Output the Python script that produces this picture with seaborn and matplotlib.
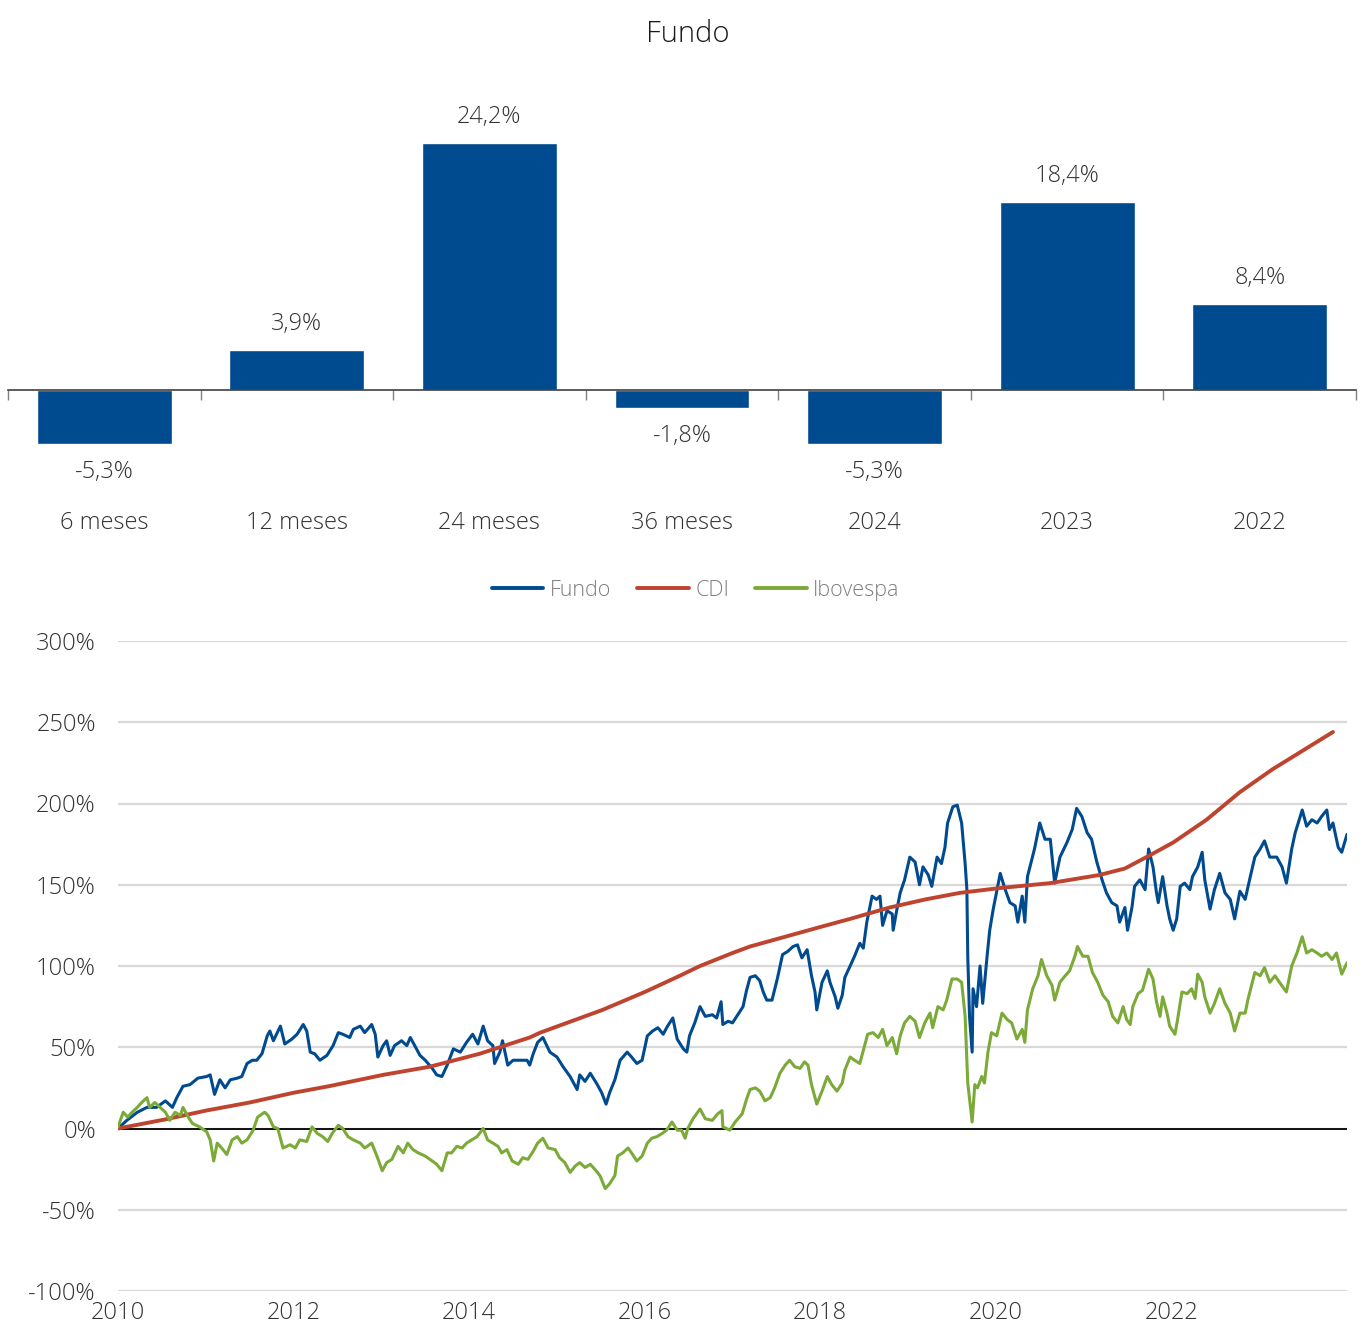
import numpy as np
import pandas as pd
import matplotlib
matplotlib.use("Agg")
import matplotlib.pyplot as plt
import matplotlib.transforms as mtransforms
from matplotlib.lines import Line2D
from matplotlib.ticker import FuncFormatter
import seaborn as sns

# ---- barras: retorno do fundo por janela ----
periodos = ["6 meses", "12 meses", "24 meses", "36 meses", "2024", "2023", "2022"]
retornos = [-5.3, 3.9, 24.2, -1.8, -5.3, 18.4, 8.4]

# ---- linhas: retorno acumulado (%), tempo em anos desde jan/2010 ----
fundo_t = [0.00, 0.10, 0.22, 0.33, 0.44, 0.54, 0.62, 0.67, 0.74, 0.82, 0.91, 1.01, 1.05, 1.10,
           1.16, 1.22, 1.28, 1.36, 1.41, 1.47, 1.53, 1.58, 1.64, 1.70, 1.73, 1.77, 1.85, 1.90,
           1.98, 2.04, 2.11, 2.15, 2.19, 2.24, 2.30, 2.38, 2.45, 2.51, 2.56, 2.64, 2.68, 2.76,
           2.81, 2.89, 2.93, 2.96, 3.02, 3.06, 3.10, 3.15, 3.23, 3.29, 3.33, 3.38, 3.44, 3.50,
           3.58, 3.63, 3.69, 3.75, 3.82, 3.90, 3.97, 4.04, 4.10, 4.16, 4.21, 4.27, 4.29, 4.35,
           4.38, 4.44, 4.50, 4.58, 4.66, 4.69, 4.73, 4.78, 4.84, 4.92, 5.00, 5.07, 5.15, 5.23,
           5.26, 5.32, 5.38, 5.46, 5.51, 5.56, 5.60, 5.66, 5.72, 5.80, 5.85, 5.91, 5.97, 6.03,
           6.09, 6.15, 6.21, 6.26, 6.32, 6.37, 6.44, 6.48, 6.51, 6.57, 6.63, 6.69, 6.77, 6.82,
           6.87, 6.89, 6.95, 7.00, 7.06, 7.12, 7.16, 7.20, 7.26, 7.31, 7.35, 7.39, 7.45, 7.51,
           7.57, 7.63, 7.69, 7.74, 7.79, 7.85, 7.90, 7.94, 7.96, 8.02, 8.08, 8.11, 8.17, 8.20,
           8.25, 8.28, 8.34, 8.39, 8.45, 8.49, 8.53, 8.59, 8.64, 8.68, 8.71, 8.76, 8.82, 8.83,
           8.87, 8.91, 8.96, 9.02, 9.08, 9.13, 9.17, 9.23, 9.27, 9.33, 9.38, 9.42, 9.45, 9.51,
           9.56, 9.61, 9.65, 9.67, 9.68, 9.70, 9.73, 9.74, 9.78, 9.82, 9.85, 9.90, 9.93, 9.97,
           10.05, 10.10, 10.16, 10.22, 10.25, 10.30, 10.33, 10.36, 10.44, 10.50, 10.56, 10.62,
           10.67, 10.73, 10.81, 10.87, 10.92, 10.98, 11.04, 11.09, 11.15, 11.21, 11.26, 11.32,
           11.38, 11.41, 11.47, 11.50, 11.55, 11.58, 11.64, 11.70, 11.74, 11.79, 11.83, 11.85,
           11.90, 11.95, 11.98, 12.02, 12.06, 12.10, 12.15, 12.21, 12.24, 12.30, 12.35, 12.38,
           12.44, 12.49, 12.55, 12.61, 12.67, 12.72, 12.78, 12.84, 12.89, 12.95, 13.01, 13.06,
           13.12, 13.20, 13.26, 13.31, 13.37, 13.41, 13.49, 13.54, 13.60, 13.66, 13.71, 13.77,
           13.80, 13.84, 13.90, 13.94, 14.00]
fundo_v = [0, 5, 10, 13, 13, 17, 13, 19, 26, 27, 31, 32, 33, 21,
           30, 25, 30, 31, 32, 40, 42, 42, 46, 57, 60, 54, 63, 52,
           55, 58, 64, 60, 47, 46, 42, 45, 51, 59, 58, 56, 61, 63,
           59, 64, 58, 44, 51, 54, 45, 51, 54, 51, 56, 51, 45, 42,
           37, 33, 32, 39, 49, 47, 53, 58, 52, 63, 54, 51, 40, 47,
           54, 39, 42, 42, 42, 39, 46, 53, 56, 47, 44, 38, 32, 24,
           33, 29, 34, 27, 22, 15, 22, 30, 42, 47, 44, 40, 42, 57,
           60, 62, 58, 63, 68, 55, 49, 47, 57, 65, 75, 69, 70, 68,
           78, 64, 66, 65, 70, 75, 85, 93, 94, 91, 84, 79, 79, 92,
           107, 109, 112, 113, 105, 110, 94, 84, 73, 90, 97, 90, 81, 74,
           82, 93, 100, 106, 114, 111, 127, 143, 141, 143, 125, 134, 132, 122,
           134, 145, 153, 167, 164, 150, 161, 156, 149, 167, 163, 173, 188, 198,
           199, 188, 163, 147, 106, 69, 47, 86, 75, 100, 77, 106, 122, 135,
           157, 148, 139, 137, 127, 143, 127, 155, 172, 188, 178, 178,
           151, 167, 176, 184, 197, 192, 182, 178, 164, 153, 145, 139,
           137, 127, 136, 122, 136, 149, 153, 147, 172, 161, 145, 139,
           155, 137, 129, 122, 129, 149, 151, 147, 155, 161, 170, 153,
           135, 147, 157, 145, 141, 129, 146, 141, 153, 167, 172, 177,
           167, 167, 161, 151, 172, 182, 196, 186, 190, 188, 192, 196,
           184, 188, 173, 170, 181]

cdi_t = [0.00, 0.53, 1.00, 1.50, 2.00, 2.40, 3.02, 3.55, 4.12, 4.69, 4.81, 5.52, 6.00,
         6.40, 6.63, 7.00, 7.20, 7.60, 8.00, 8.34, 8.79, 9.20, 9.59, 10.05, 10.62, 11.18,
         11.47, 11.75, 12.02, 12.40, 12.78, 13.15, 13.54, 13.84]
cdi_v = [0, 5.5, 11, 16, 22, 26, 33, 38, 46, 56, 59, 73, 84,
         94, 100, 108, 112, 118, 124, 129, 136, 141, 145, 148, 151, 156,
         160, 168, 176, 190, 207, 221, 234, 244]

ibov_t = [0.00, 0.06, 0.11, 0.16, 0.22, 0.27, 0.33, 0.36, 0.42, 0.48, 0.54, 0.59, 0.65, 0.71,
          0.74, 0.80, 0.85, 0.93, 1.01, 1.05, 1.09, 1.13, 1.18, 1.24, 1.30, 1.36, 1.41, 1.47,
          1.54, 1.59, 1.67, 1.71, 1.77, 1.82, 1.88, 1.96, 2.02, 2.07, 2.15, 2.21, 2.27, 2.33,
          2.39, 2.44, 2.51, 2.56, 2.62, 2.68, 2.76, 2.81, 2.89, 2.95, 3.01, 3.06, 3.12, 3.19,
          3.25, 3.30, 3.36, 3.42, 3.50, 3.58, 3.63, 3.69, 3.75, 3.80, 3.86, 3.92, 3.97, 4.03,
          4.09, 4.16, 4.21, 4.27, 4.33, 4.37, 4.43, 4.49, 4.56, 4.61, 4.67, 4.73, 4.78, 4.84,
          4.90, 4.98, 5.03, 5.09, 5.15, 5.21, 5.26, 5.32, 5.38, 5.43, 5.49, 5.55, 5.60, 5.66,
          5.69, 5.75, 5.81, 5.85, 5.91, 5.97, 6.03, 6.08, 6.14, 6.20, 6.25, 6.31, 6.37, 6.42,
          6.46, 6.49, 6.55, 6.63, 6.69, 6.77, 6.83, 6.88, 6.89, 6.97, 7.03, 7.11, 7.16, 7.20,
          7.26, 7.31, 7.37, 7.43, 7.48, 7.54, 7.60, 7.65, 7.71, 7.77, 7.82, 7.86, 7.90, 7.96,
          8.02, 8.08, 8.13, 8.19, 8.25, 8.28, 8.34, 8.39, 8.45, 8.49, 8.54, 8.60, 8.66, 8.71,
          8.76, 8.82, 8.87, 8.91, 8.96, 9.02, 9.08, 9.13, 9.19, 9.25, 9.28, 9.34, 9.40, 9.44,
          9.50, 9.56, 9.61, 9.65, 9.68, 9.73, 9.76, 9.79, 9.84, 9.87, 9.91, 9.95, 10.01,
          10.07, 10.13, 10.18, 10.24, 10.30, 10.33, 10.36, 10.42, 10.48, 10.52, 10.58, 10.64,
          10.67, 10.73, 10.79, 10.84, 10.90, 10.93, 10.99, 11.05, 11.10, 11.16, 11.22, 11.28,
          11.33, 11.39, 11.45, 11.49, 11.53, 11.56, 11.62, 11.67, 11.74, 11.79, 11.83, 11.87,
          11.90, 11.95, 11.98, 12.04, 12.07, 12.12, 12.18, 12.23, 12.27, 12.30, 12.35, 12.38,
          12.44, 12.49, 12.55, 12.61, 12.67, 12.72, 12.78, 12.84, 12.87, 12.95, 13.01, 13.06,
          13.12, 13.18, 13.23, 13.31, 13.37, 13.43, 13.49, 13.54, 13.60, 13.66, 13.71, 13.77,
          13.83, 13.88, 13.94, 14.00]
ibov_v = [1, 10, 7, 10, 13, 16, 19, 13, 16, 13, 10, 5, 10, 8,
          13, 7, 3, 1, -2, -7, -20, -9, -12, -16, -7, -5, -9, -7,
          -1, 7, 10, 8, 1, 0, -12, -10, -12, -7, -8, 1, -3, -5,
          -8, -3, 2, 0, -5, -7, -9, -12, -9, -17, -26, -21, -19, -11,
          -15, -9, -13, -15, -17, -20, -22, -26, -15, -15, -11, -12, -9, -7,
          -5, 0, -7, -9, -11, -15, -13, -20, -22, -18, -19, -14, -9, -6,
          -12, -13, -18, -21, -27, -23, -21, -24, -22, -25, -29, -37, -34, -29,
          -17, -15, -12, -15, -20, -17, -9, -6, -5, -3, -1, 4, -1, -1,
          -6, 0, 6, 12, 6, 5, 9, 11, 1, -1, 4, 9, 18, 24,
          25, 23, 17, 19, 25, 34, 39, 42, 38, 37, 41, 39, 27, 15,
          23, 32, 27, 23, 28, 36, 44, 42, 40, 48, 58, 59, 56, 61,
          51, 56, 46, 57, 65, 69, 66, 56, 65, 71, 62, 75, 73, 79,
          92, 92, 90, 69, 28, 4, 27, 25, 32, 28, 47, 59, 57,
          71, 67, 65, 55, 61, 53, 73, 86, 94, 104, 94, 88,
          79, 90, 94, 97, 106, 112, 106, 106, 96, 90, 82, 78,
          69, 65, 75, 67, 64, 75, 83, 85, 98, 92, 78, 69,
          81, 71, 63, 58, 67, 84, 83, 86, 80, 95, 90, 81,
          71, 77, 86, 77, 71, 60, 71, 71, 79, 96, 94, 99,
          90, 94, 90, 84, 100, 108, 118, 108, 110, 108, 106, 108,
          104, 108, 95, 102]

series_nomes = ["Fundo", "CDI", "Ibovespa"]
anos_ticks = [2010, 2012, 2014, 2016, 2018, 2020, 2022]

azul = "#004A8F"
vermelho = "#BF4430"
verde = "#7BAA38"
cinza_txt = "#333333"

sns.set_theme(style="white")
plt.rcParams["font.family"] = ["Open Sans", "DejaVu Sans"]
plt.rcParams["font.weight"] = "light"

W, H = 1362, 1330
fig = plt.figure(figsize=(W / 100, H / 100), dpi=100)

# ---------------- bar chart ----------------
ax1 = fig.add_axes([8 / W, (H - 460) / H, 1348 / W, 360 / H])
sns.barplot(x=periodos, y=retornos, color=azul, saturation=1, width=0.7, ax=ax1)
ax1.set_xlim(-0.5, len(periodos) - 0.5)
ax1.set_ylim(-6.86, 28.43)
ax1.set_xticks(np.arange(-0.5, len(periodos), 1.0))
ax1.set_xticklabels([])
ax1.set_yticks([])
for s in ["top", "left", "right"]:
    ax1.spines[s].set_visible(False)
ax1.spines["bottom"].set_position(("data", 0))
ax1.spines["bottom"].set_color("#404040")
ax1.spines["bottom"].set_linewidth(1.2)
ax1.tick_params(axis="x", bottom=True, direction="out", length=7, width=1, color="#808080")

for i, v in enumerate(retornos):
    txt = f"{v:.1f}%".replace(".", ",")
    ax1.annotate(txt, (i, v), xytext=(0, 26 if v > 0 else -28),
                 textcoords="offset pixels", ha="center", va="center",
                 fontsize=17, color=cinza_txt)

trans = mtransforms.blended_transform_factory(ax1.transData, fig.transFigure)
for i, lab in enumerate(periodos):
    ax1.text(i, 1 - 523 / H, lab, transform=trans, ha="center", va="center",
             fontsize=17, color=cinza_txt)

fig.text(688 / W, 1 - 34 / H, "Fundo", ha="center", va="center",
         fontsize=21, color="#1a1a1a")

# ---------------- line chart ----------------
ax2 = fig.add_axes([118 / W, (H - 1291) / H, 1229 / W, 650 / H])
df = pd.concat([
    pd.DataFrame({"t": fundo_t, "v": fundo_v, "serie": "Fundo"}),
    pd.DataFrame({"t": cdi_t, "v": cdi_v, "serie": "CDI"}),
    pd.DataFrame({"t": ibov_t, "v": ibov_v, "serie": "Ibovespa"}),
])
cores = {"Fundo": azul, "CDI": vermelho, "Ibovespa": verde}
sns.lineplot(data=df, x="t", y="v", hue="serie", palette=cores, hue_order=series_nomes,
             estimator=None, sort=False, linewidth=2.2, legend=False, ax=ax2)
ax2.lines[1].set_linewidth(2.8)
for ln in ax2.lines:
    ln.set_solid_joinstyle("round")

ax2.set_xlim(0, 14.0)
ax2.set_ylim(-100, 300)
ax2.set_yticks(np.arange(-100, 301, 50))
ax2.yaxis.set_major_formatter(FuncFormatter(lambda v, p: f"{v:.0f}%"))
ax2.set_xticks([a - 2010 for a in anos_ticks])
ax2.set_xticklabels([str(a) for a in anos_ticks])
ax2.grid(axis="y", color="#d9d9d9", linewidth=1.6)
ax2.grid(axis="x", visible=False)
ax2.axhline(0, color="black", linewidth=1.3, zorder=1.5)
for s in ax2.spines.values():
    s.set_visible(False)
ax2.tick_params(axis="y", length=0, pad=16, labelsize=17, labelcolor=cinza_txt)
ax2.tick_params(axis="x", length=0, pad=7, labelsize=17, labelcolor=cinza_txt)
ax2.set_xlabel("")
ax2.set_ylabel("")

handles = [Line2D([], [], color=cores[n], linewidth=2.8) for n in series_nomes]
ax2.legend(handles, series_nomes, loc="center", bbox_to_anchor=(0.47, 1.078), ncol=3,
           frameon=False, fontsize=15.5, handlelength=2.4, handletextpad=0.3,
           columnspacing=1.2, labelcolor="#7f7f7f")

fig.savefig("out.png", dpi=100)
